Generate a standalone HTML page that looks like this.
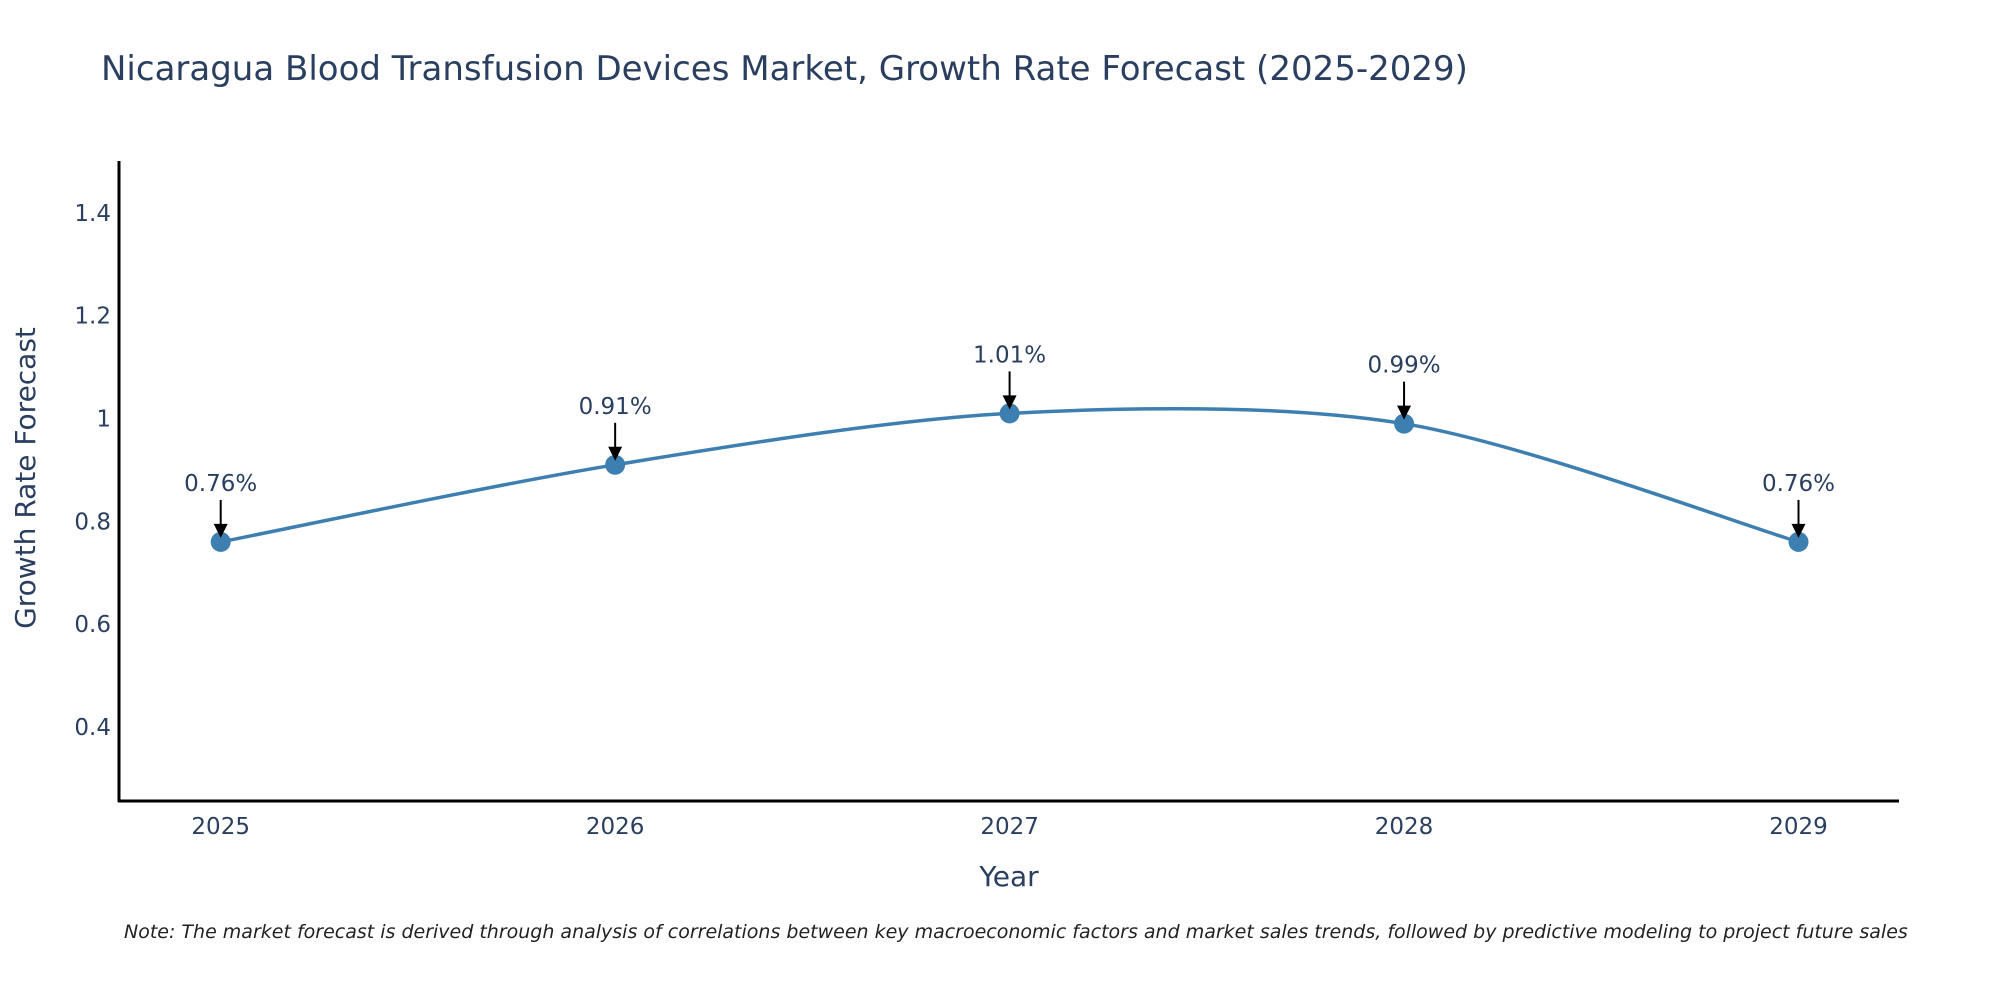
<!DOCTYPE html>
<html><head><meta charset="utf-8"><style>
body{margin:0;background:#fff;}
svg{display:block;font-family:"DejaVu Sans","Liberation Sans",sans-serif;}
</style></head><body>
<svg id="chart" width="2000" height="1000" viewBox="0 0 2000 1000">
<text x="101" y="80" font-size="34" fill="#2a3f5f">Nicaragua Blood Transfusion Devices Market, Growth Rate Forecast (2025-2029)</text>
<g id="yticks"></g>
<g id="xticks"></g>
<line x1="119" y1="161" x2="119" y2="802" stroke="#000" stroke-width="3"/>
<line x1="118" y1="801" x2="1899" y2="801" stroke="#000" stroke-width="3"/>
<path id="line" fill="none" stroke="#3d7fb0" stroke-width="3.5"/>
<g id="points"></g>
<g id="annots"></g>
<text x="1009" y="886" font-size="28" fill="#2a3f5f" text-anchor="middle">Year</text>
<text transform="translate(35,478) rotate(-90)" font-size="28" fill="#2a3f5f" text-anchor="middle">Growth Rate Forecast</text>
<text x="124" y="938" font-size="19" font-style="italic" fill="#222">Note: The market forecast is derived through analysis of correlations between key macroeconomic factors and market sales trends, followed by predictive modeling to project future sales</text>
</svg>
<script>
const years=["2025","2026","2027","2028","2029"];
const values=[0.76,0.91,1.01,0.99,0.76];
const labels=["0.76%","0.91%","1.01%","0.99%","0.76%"];
const yTicks=[0.4,0.6,0.8,1,1.2,1.4];
const yTickLabels=["0.4","0.6","0.8","1","1.2","1.4"];
const NS="http://www.w3.org/2000/svg";
const yMin=0.256,yMax=1.501,pTop=161,pBot=801;
function ys(v){return pBot-(v-yMin)/(yMax-yMin)*(pBot-pTop);}
function xs(i){return 220.7+i*(1798.5-220.7)/(years.length-1);}
function mk(t,a,p){const e=document.createElementNS(NS,t);for(const k in a)e.setAttribute(k,a[k]);p.appendChild(e);return e;}
const yt=document.getElementById('yticks');
yTicks.forEach((v,i)=>{const t=mk('text',{x:111,y:ys(v)+8,'font-size':23,fill:'#2a3f5f','text-anchor':'end'},yt);t.textContent=yTickLabels[i];

});
const xt=document.getElementById('xticks');
years.forEach((y,i)=>{const t=mk('text',{x:xs(i),y:834,'font-size':23,fill:'#2a3f5f','text-anchor':'middle'},xt);t.textContent=y;

});
const pts=values.map((v,i)=>[xs(i),ys(v)]);
let d=`M${pts[0][0]},${pts[0][1]}`;const s=0.15;
for(let i=0;i<pts.length-1;i++){const p0=pts[Math.max(0,i-1)],p1=pts[i],p2=pts[i+1],p3=pts[Math.min(pts.length-1,i+2)];
const c1=[p1[0]+(p2[0]-p0[0])*s,p1[1]+(p2[1]-p0[1])*s],c2=[p2[0]-(p3[0]-p1[0])*s,p2[1]-(p3[1]-p1[1])*s];
d+=` C${c1[0]},${c1[1]} ${c2[0]},${c2[1]} ${p2[0]},${p2[1]}`;}
document.getElementById('line').setAttribute('d',d);
const pg=document.getElementById('points'),ag=document.getElementById('annots');
pts.forEach((p,i)=>{const c=mk('circle',{cx:p[0],cy:p[1],r:10,fill:'#3d7fb0'},pg);


const l=mk('line',{x1:p[0],y1:p[1]-42,x2:p[0],y2:p[1]-14,stroke:'#000','stroke-width':2},ag);


const h=mk('polygon',{points:`${p[0]-7},${p[1]-18} ${p[0]+7},${p[1]-18} ${p[0]},${p[1]-4}`,fill:'#000'},ag);


const t=mk('text',{x:p[0],y:p[1]-51,'font-size':23,fill:'#2a3f5f','text-anchor':'middle'},ag);t.textContent=labels[i];

});
</script>
</body></html>
